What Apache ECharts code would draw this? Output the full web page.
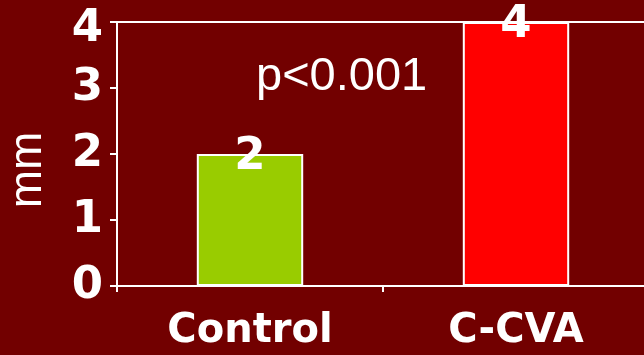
<!DOCTYPE html>
<html>
<head>
<meta charset="utf-8">
<script src="https://cdn.jsdelivr.net/npm/echarts@6/dist/echarts.min.js"></script>
<style>
  html, body { margin: 0; padding: 0; background: #720000; }
  #chart { width: 644px; height: 355px; }
</style>
</head>
<body>
<div id="chart"></div>
<script>
// Wall thickness by group
const categories = ['Control', 'C-CVA'];
const values = [2, 4];
const barColors = ['#99cc00', '#ff0000'];
const yTicks = [0, 1, 2, 3, 4];
const axisTitle = 'mm';
const pValueText = 'p<0.001';

const boldFont = 'DejaVu Sans';
const chart = echarts.init(document.getElementById('chart'), null, { renderer: 'canvas' });
const yMax = yTicks[yTicks.length - 1];

chart.setOption({
  backgroundColor: '#720000',
  animation: false,
  grid: {
    left: 117, right: -5, top: 22, bottom: 69,
    containLabel: false, outerBoundsMode: 'none'
  },
  xAxis: [
    {
      type: 'category',
      data: categories,
      position: 'bottom',
      axisLine: { show: true, lineStyle: { color: '#ffffff', width: 2 } },
      axisTick: { show: true, length: 6, lineStyle: { color: '#ffffff', width: 2 } },
      axisLabel: {
        color: '#ffffff', fontFamily: boldFont, fontWeight: 'bold', fontSize: 40, margin: 26
      },
      splitLine: { show: false }
    },
    {
      type: 'category',
      data: categories,
      position: 'top',
      axisLine: { show: true, lineStyle: { color: '#ffffff', width: 2 } },
      axisTick: { show: false },
      axisLabel: { show: false },
      splitLine: { show: false }
    }
  ],
  yAxis: {
    type: 'value',
    min: yTicks[0],
    max: yMax,
    interval: 1,
    name: axisTitle,
    nameLocation: 'middle',
    nameGap: 66,
    nameTextStyle: {
      color: '#ffffff', fontFamily: 'Liberation Sans', fontSize: 46,
      padding: [0, 32, 0, 0]
    },
    axisLine: { show: true, lineStyle: { color: '#ffffff', width: 2 } },
    axisTick: { show: true, length: 7, lineStyle: { color: '#ffffff', width: 2 } },
    axisLabel: {
      color: '#ffffff', fontFamily: boldFont, fontWeight: 'bold', fontSize: 45, margin: 14,
      formatter: v => {
        if (!yTicks.includes(v)) return '';
        // the topmost label sits a little lower so it stays on the page
        return v === yMax ? '{top|' + v + '}' : String(v);
      },
      rich: {
        top: {
          color: '#ffffff', fontFamily: boldFont, fontWeight: 'bold', fontSize: 45,
          padding: [14, 0, 0, 0]
        }
      }
    },
    splitLine: { show: false }
  },
  series: [{
    type: 'bar',
    barWidth: '40%',
    data: values.map((v, i) => ({
      value: v,
      itemStyle: { color: barColors[i], borderColor: '#ffffff', borderWidth: 2 }
    })),
    label: {
      show: true,
      position: ['50%', 0],
      offset: [0, 3],
      align: 'center',
      verticalAlign: 'middle',
      color: '#ffffff',
      fontFamily: boldFont,
      fontWeight: 'bold',
      fontSize: 45
    }
  }],
  graphic: [{
    type: 'text',
    left: 256,
    top: 54,
    style: {
      text: pValueText,
      fill: '#ffffff',
      font: '47px "Liberation Sans"'
    }
  }]
});
</script>
</body>
</html>
